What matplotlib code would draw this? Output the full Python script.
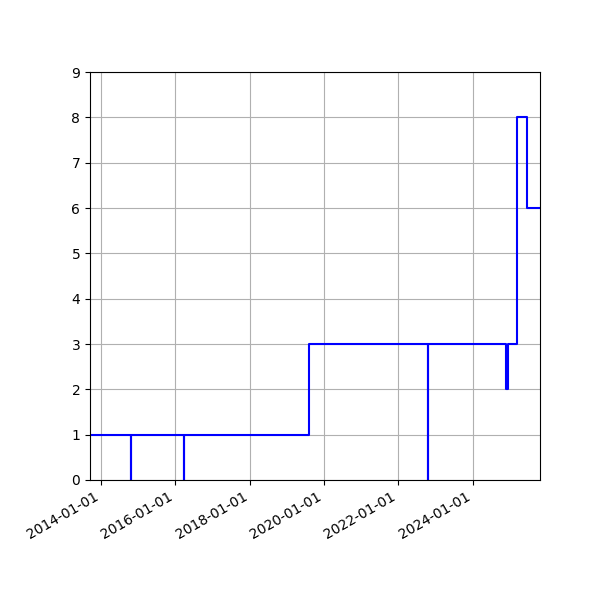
import matplotlib
matplotlib.use("Agg")
import matplotlib.pyplot as plt
import matplotlib.dates as mdates
import pandas as pd

dates = ['2013-09-17', '2014-10-23', '2014-10-25', '2016-03-27', '2016-03-29',
         '2019-08-08', '2022-10-19', '2022-10-21', '2024-11-22', '2024-12-14',
         '2025-03-10', '2025-06-19', '2025-10-25']
values = [1, 0, 1, 0, 1, 3, 0, 3, 2, 3, 8, 6, 6]

x = pd.to_datetime(dates)

fig, ax = plt.subplots(figsize=(6, 6), dpi=100)
ax.plot(x, values, drawstyle='steps-post', color='blue', linewidth=1.5)
ax.set_xlim(x[0], x[-1])
ax.set_ylim(0, 9)
ax.set_yticks(range(0, 10))
ax.xaxis.set_major_locator(mdates.YearLocator(2))
ax.xaxis.set_major_formatter(mdates.DateFormatter('%Y-%m-%d'))
ax.grid(True)
fig.autofmt_xdate()
fig.subplots_adjust(left=0.15, right=0.9, top=0.88, bottom=0.2)
fig.savefig('out.png')
